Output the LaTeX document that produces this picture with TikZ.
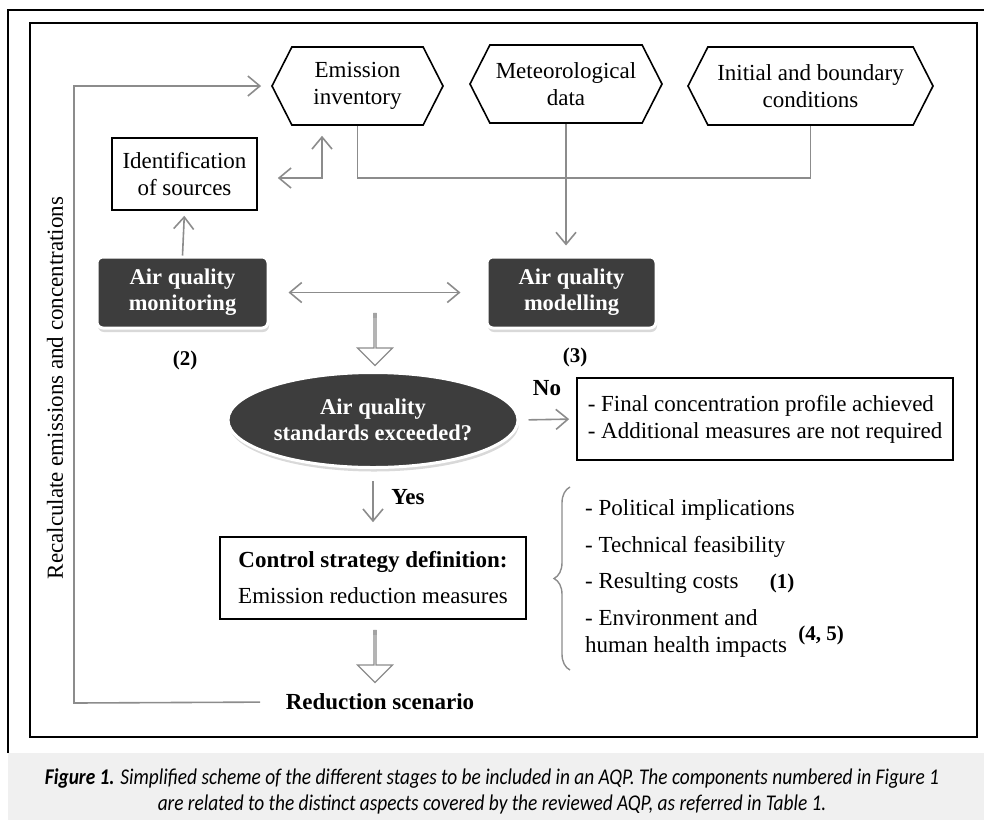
\documentclass[tikz,border=0pt]{standalone}
\usepackage{fontspec}
\setmainfont{Liberation Serif}
\newfontfamily\capfont[FakeStretch=0.86]{Carlito}
\usetikzlibrary{shapes.symbols,shapes.geometric,shapes.arrows,arrows.meta,shadows,decorations.pathreplacing}

\definecolor{linegray}{HTML}{8C8C8C}
\definecolor{boxdark}{HTML}{3D3D3D}
\definecolor{capgray}{HTML}{F0F0F0}

\tikzset{
  >={Straight Barb[length=12pt,width=20pt]},
  gline/.style={draw=linegray,line width=1.6pt},
  hexbox/.style={signal,signal to=west and east,signal pointer angle=126,draw,line width=1.6pt,
    align=center,inner sep=0pt,font=\fontsize{23}{27}\selectfont},
  darkbox/.style={rounded corners=6pt,fill=boxdark,draw=white,line width=3pt,text=white,align=center,
    font=\bfseries\fontsize{22.5}{26}\selectfont,drop shadow={shadow xshift=1pt,shadow yshift=-4pt,opacity=0.3}},
  plainbox/.style={rectangle,draw,line width=1.6pt,align=center,inner sep=0pt,font=\fontsize{23}{27}\selectfont},
  numlabel/.style={font=\bfseries\fontsize{21}{23}\selectfont},
  answer/.style={font=\bfseries\fontsize{23}{25}\selectfont},
  listtext/.style={anchor=west,align=left,inner sep=0pt,font=\fontsize{23}{27}\selectfont},
  hollow/.style={single arrow,shape border rotate=270,draw=linegray,fill=white,line width=1.2pt,
    minimum height=52pt,minimum width=35pt,single arrow head extend=9.5pt,single arrow tip angle=90,inner sep=0pt}
}

\begin{document}
\begin{tikzpicture}[x=1pt,y=-1pt]
  \useasboundingbox (0,0) rectangle (984,820);
  % frames and caption
  \fill[capgray] (8,753) rectangle (984,820);
  \draw[line width=2.5pt] (8,753) -- (8,10) -- (990,10);
  \draw[line width=2.5pt] (30,23) rectangle (977,737);
  \node[font=\capfont\itshape\fontsize{22.5}{26}\selectfont,align=center] (cap) at (492,791)
    {\textbf{Figure 1.} Simplified scheme of the different stages to be included in an AQP. The components numbered in Figure 1\\
     are related to the distinct aspects covered by the reviewed AQP, as referred in Table 1.};

  % inputs
  \node[hexbox,minimum width=171pt,minimum height=78pt] (emis) at (357.5,86) {Emission\\inventory};
  \node[hexbox,minimum width=192pt,minimum height=78pt] (meteo) at (566,84) {Meteorological\\data};
  \node[hexbox,minimum width=245pt,minimum height=78pt] (init) at (810.5,86) {Initial and boundary\\conditions};
  \node[plainbox,minimum width=145pt,minimum height=72pt] (ident) at (184.5,174) {Identification\\of sources};

  % monitoring and modelling
  \node[darkbox,minimum width=171pt,minimum height=71pt] (monit) at (182.5,292.5) {Air quality\\monitoring};
  \node[darkbox,minimum width=169pt,minimum height=71pt] (model) at (571.5,292.5) {Air quality\\modelling};
  \node[numlabel] (n2) at (185,360) {(2)};
  \node[numlabel] (n3) at (575,357) {(3)};

  % decision
  \node[ellipse,fill=boxdark,draw=white,line width=3pt,text=white,align=center,
    minimum width=290pt,minimum height=95pt,inner sep=0pt,font=\bfseries\fontsize{22.5}{26}\selectfont,
    drop shadow={shadow xshift=1pt,shadow yshift=-4pt,opacity=0.3}] (excd) at (373,420) {Air quality\\standards exceeded?};
  \node[plainbox,align=left,minimum width=376pt,minimum height=82pt] (final) at (765,419)
    {- Final concentration profile achieved\\- Additional measures are not required};
  \node[answer] (no) at (547,388) {No};
  \node[answer] (yes) at (408,497) {Yes};

  % control strategy
  \node[plainbox,minimum width=306pt,minimum height=82pt,font=\fontsize{23}{36}\selectfont] (ctrl) at (373,578)
    {\textbf{Control strategy definition:}\\Emission reduction measures};
  \node[font=\bfseries\fontsize{23}{26}\selectfont] (red) at (380,702) {Reduction scenario};
  \node[listtext] (pol) at (585,510) {- Political implications};
  \node[listtext] (tec) at (585,547) {- Technical feasibility};
  \node[listtext] (cost) at (585,583) {- Resulting costs};
  \node[listtext] (env) at (585,633) {- Environment and\\human health impacts};
  \node[numlabel] (n1) at (782,583) {(1)};
  \node[numlabel] (n45) at (821,635) {(4, 5)};
  \draw[linegray,line width=1.4pt,decorate,decoration={brace,amplitude=16pt}] (570,670) -- (570,487);

  \node[rotate=90,font=\fontsize{23}{26}\selectfont] (recalc) at (55,388) {Recalculate emissions and concentrations};

  % connectors
  \coordinate (elb) at (322,178);
  \coordinate (loop) at (74,703);
  \draw[gline,->,shorten >=10pt] (meteo.south) -- (model.north -| meteo.south);
  \draw[gline] (emis.south) -- ++(0,52) -| (init.south);
  \draw[gline,<->,shorten <=20pt,shorten >=10pt] (ident.east |- elb) -| (emis.south -| elb);
  \draw[gline,->,shorten >=5pt] (monit.north) -- (ident.south);
  \draw[gline,<->,shorten <=19pt,shorten >=25pt] (monit.east) -- (model.west);
  \draw[gline,->,shorten <=9pt,shorten >=7pt] (excd.east) -- (final.west);
  \draw[gline,->,shorten <=12pt,shorten >=14pt] (excd.south) -- (ctrl.north);
  \draw[gline,->,shorten <=22pt,shorten >=10pt] (red.west) -- (loop) |- (emis.west);

  % hollow arrows
  \node[hollow] (down1) at (375,339) {};
  \node[hollow] (down2) at (375,656) {};
  \foreach \h in {down1,down2}
    \fill[linegray!80] (\h.before tail) rectangle ([yshift=-5pt]\h.after tail);
\end{tikzpicture}
\end{document}
